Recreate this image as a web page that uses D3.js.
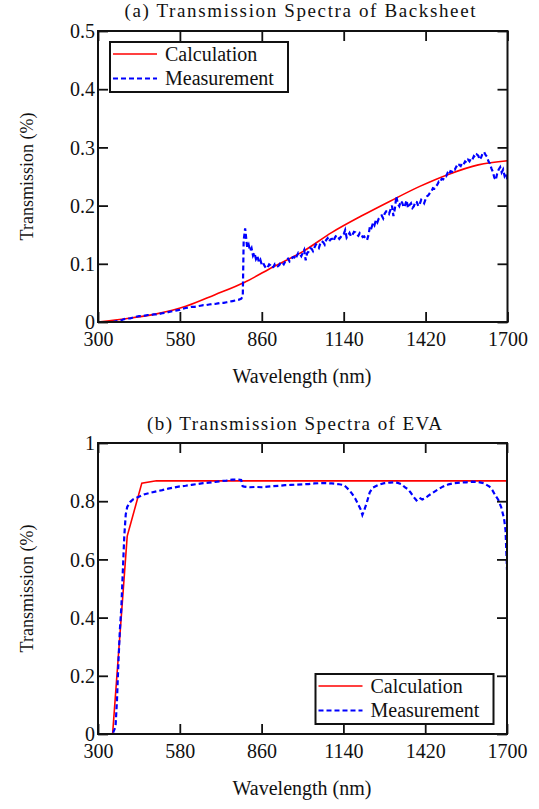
<!DOCTYPE html>
<html><head><meta charset="utf-8">
<script src="https://cdn.jsdelivr.net/npm/d3@7"></script>
<style>
html,body{margin:0;padding:0;background:#fff;}
svg text{font-family:"Liberation Serif","Times New Roman",serif;fill:#111;}
</style>
</head><body>
<svg id="chart" width="539" height="809"></svg>
<script>
// ---------- DATA ----------
const xTickValues = [300, 580, 860, 1140, 1420, 1700];
const yTicksA = [0, 0.1, 0.2, 0.3, 0.4, 0.5];
const yTickLabelsA = ["0", "0.1", "0.2", "0.3", "0.4", "0.5"];
const yTicksB = [0, 0.2, 0.4, 0.6, 0.8, 1];
const yTickLabelsB = ["0", "0.2", "0.4", "0.6", "0.8", "1"];
const seriesNames = ["Calculation", "Measurement"];

// (a) Backsheet - calculation [wavelength nm, transmission]
const calcA = [[300,0.000],[400,0.006],[500,0.014],[600,0.027],[700,0.047],[800,0.068],[900,0.095],
  [1000,0.121],[1100,0.154],[1200,0.182],[1300,0.208],[1400,0.233],[1500,0.254],[1600,0.270],[1700,0.277]];

// (a) Backsheet - measurement
const measA = [[350,0.000],[360,0.001],[370,0.002],[380,0.003],[390,0.005],[400,0.006],[410,0.006],[420,0.008],
  [430,0.009],[440,0.010],[450,0.010],[460,0.011],[470,0.012],[480,0.012],[490,0.013],[500,0.013],[510,0.014],
  [520,0.015],[530,0.016],[540,0.017],[550,0.018],[560,0.019],[570,0.020],[580,0.021],[590,0.023],[600,0.024],
  [610,0.025],[620,0.026],[630,0.026],[640,0.027],[650,0.028],[660,0.029],[670,0.029],[680,0.030],[690,0.031],
  [700,0.031],[710,0.032],[720,0.033],[730,0.033],[740,0.034],[750,0.035],[760,0.036],[770,0.037],[780,0.038],
  [790,0.040],[795,0.045],[798,0.140],[803,0.161],
  [810,0.128],[815,0.133],[820,0.122],[825,0.127],[830,0.114],[835,0.119],[840,0.108],[845,0.113],[850,0.103],
  [855,0.107],[860,0.098],[865,0.101],[870,0.096],[875,0.092],[880,0.094],[885,0.099],[890,0.097],[895,0.093],
  [900,0.095],[905,0.100],[910,0.099],[915,0.096],[920,0.098],[925,0.103],[930,0.102],[935,0.099],[940,0.104],
  [945,0.108],[950,0.109],[955,0.104],[960,0.106],[965,0.111],[970,0.112],[975,0.108],[980,0.114],[985,0.119],
  [990,0.117],[995,0.113],[1000,0.119],[1005,0.124],[1010,0.106],[1015,0.118],[1020,0.121],[1025,0.127],
  [1030,0.126],[1035,0.122],[1040,0.128],[1045,0.133],[1050,0.130],[1055,0.127],[1060,0.135],[1065,0.139],
  [1070,0.137],[1075,0.133],[1080,0.141],[1085,0.144],[1090,0.138],[1095,0.142],[1100,0.143],[1105,0.139],
  [1110,0.145],[1115,0.149],[1120,0.147],[1125,0.143],[1130,0.146],[1135,0.150],[1140,0.151],[1145,0.158],
  [1150,0.145],[1155,0.149],[1160,0.153],[1165,0.147],[1170,0.150],[1175,0.155],[1180,0.154],[1185,0.150],
  [1190,0.148],[1195,0.153],[1200,0.151],[1205,0.146],[1210,0.147],[1215,0.143],[1220,0.141],[1225,0.150],
  [1230,0.165],[1235,0.162],[1240,0.170],[1245,0.166],[1250,0.175],[1255,0.171],[1260,0.178],[1265,0.182],
  [1270,0.183],[1275,0.178],[1280,0.186],[1285,0.190],[1290,0.190],[1295,0.186],[1300,0.193],[1305,0.200],
  [1310,0.182],[1315,0.195],[1320,0.216],[1325,0.203],[1330,0.199],[1335,0.208],[1340,0.205],[1345,0.197],
  [1350,0.201],[1355,0.209],[1360,0.196],[1365,0.201],[1370,0.204],[1375,0.196],[1380,0.199],[1385,0.207],
  [1390,0.206],[1395,0.199],[1400,0.203],[1405,0.210],[1410,0.208],[1415,0.204],[1420,0.211],[1425,0.216],
  [1430,0.218],[1435,0.222],[1440,0.224],[1445,0.230],[1450,0.229],[1455,0.233],[1460,0.236],[1465,0.241],
  [1470,0.240],[1475,0.246],[1480,0.245],[1485,0.250],[1490,0.250],[1495,0.256],[1500,0.253],[1505,0.259],
  [1510,0.258],[1515,0.263],[1520,0.262],[1525,0.267],[1530,0.265],[1535,0.270],[1540,0.268],[1545,0.273],
  [1550,0.271],[1555,0.276],[1560,0.274],[1565,0.279],[1570,0.276],[1575,0.281],[1580,0.279],[1585,0.285],
  [1590,0.283],[1595,0.288],[1600,0.286],[1605,0.279],[1610,0.283],[1615,0.290],[1620,0.292],[1625,0.287],
  [1630,0.284],[1635,0.276],[1640,0.272],[1645,0.264],[1650,0.258],[1655,0.248],[1660,0.244],[1665,0.256],
  [1670,0.262],[1675,0.266],[1680,0.257],[1685,0.262],[1690,0.251],[1695,0.256],[1700,0.243]];

// (b) EVA - calculation
const calcB = [[300,0],[350,0],[400,0.680],[450,0.862],[500,0.870],[600,0.870],[800,0.870],[1000,0.870],
  [1200,0.870],[1400,0.870],[1600,0.870],[1700,0.870]];

// (b) EVA - measurement
const measB = [[300,0],[310,0],[320,0],[330,0],[340,0],[350,0],[360,0.025],[365,0.117],[370,0.250],[375,0.360],
  [380,0.437],[385,0.560],[390,0.680],[395,0.755],[400,0.780],[410,0.797],[420,0.806],[430,0.811],[440,0.815],
  [450,0.820],[460,0.824],[480,0.829],[500,0.834],[520,0.838],[540,0.843],[560,0.847],[580,0.851],[600,0.853],
  [620,0.856],[640,0.859],[660,0.862],[680,0.864],[700,0.866],[720,0.869],[740,0.871],[760,0.874],[780,0.874],
  [790,0.873],[795,0.852],[800,0.850],[820,0.848],[840,0.849],[860,0.848],[880,0.850],[900,0.852],[920,0.853],
  [940,0.855],[960,0.856],[980,0.857],[1000,0.858],[1020,0.859],[1040,0.861],[1060,0.862],[1080,0.862],
  [1100,0.861],[1120,0.859],[1140,0.856],[1150,0.848],[1160,0.838],[1170,0.825],[1180,0.810],[1190,0.790],
  [1200,0.770],[1205,0.753],[1210,0.765],[1220,0.795],[1230,0.830],[1240,0.846],[1260,0.856],[1280,0.862],
  [1300,0.864],[1320,0.865],[1340,0.858],[1350,0.848],[1360,0.842],[1370,0.830],[1380,0.815],[1390,0.803],
  [1400,0.812],[1410,0.806],[1420,0.810],[1430,0.818],[1440,0.825],[1460,0.838],[1480,0.850],[1500,0.858],
  [1520,0.862],[1540,0.864],[1560,0.865],[1580,0.867],[1600,0.866],[1620,0.862],[1630,0.856],[1640,0.850],
  [1650,0.838],[1660,0.820],[1670,0.805],[1680,0.780],[1690,0.740],[1695,0.700],[1700,0.564]];

// ---------- DRAW ----------
const svg = d3.select("#chart");
const FONT = "'Liberation Serif', 'Times New Roman', serif";
const RED = "#ff0000", BLUE = "#0000ff";

const panels = [
  {title:"(a) Transmission Spectra of Backsheet", titleX:300, titleY:17, titleLen:351,
   top:31, bottom:322, left:98, right:507.5, yMax:0.5, yTicks:yTicksA, yLabels:yTickLabelsA,
   calc:calcA, meas:measA, curve:d3.curveMonotoneX, legend:"topleft"},
  {title:"(b) Transmission Spectra of EVA", titleX:294.5, titleY:430, titleLen:295,
   top:443, bottom:734, left:98, right:507, yMax:1, yTicks:yTicksB, yLabels:yTickLabelsB,
   calc:calcB, meas:measB, curve:d3.curveLinear, legend:"bottomright"}
];

panels.forEach((p, i) => {
  const x = d3.scaleLinear().domain([300, 1700]).range([p.left, p.right]);
  const y = d3.scaleLinear().domain([0, p.yMax]).range([p.bottom, p.top]);
  const g = svg.append("g");

  // title
  g.append("text").attr("x", p.titleX).attr("y", p.titleY).attr("text-anchor", "middle")
    .attr("font-size", 19).attr("textLength", p.titleLen).attr("lengthAdjust", "spacing").text(p.title);

  // clip
  const cid = "clip" + i;
  svg.append("clipPath").attr("id", cid).append("rect")
    .attr("x", p.left).attr("y", p.top - 2).attr("width", p.right - p.left).attr("height", p.bottom - p.top + 3);

  // lines
  const line = d3.line().x(d => x(d[0])).y(d => y(d[1]));
  g.append("path").datum(p.calc).attr("clip-path", `url(#${cid})`)
    .attr("d", line.curve(p.curve)).attr("fill", "none").attr("stroke", RED).attr("stroke-width", 1.6);
  g.append("path").datum(p.meas).attr("clip-path", `url(#${cid})`)
    .attr("d", d3.line().x(d => x(d[0])).y(d => y(d[1]))).attr("fill", "none")
    .attr("stroke", BLUE).attr("stroke-width", 2.2).attr("stroke-dasharray", "5,3");

  // axes
  const fmtY = v => p.yLabels[p.yTicks.indexOf(v)];
  const bottomAx = g.append("g").attr("transform", `translate(0,${p.bottom})`)
    .call(d3.axisBottom(x).tickValues(xTickValues).tickSizeInner(-10).tickSizeOuter(0).tickPadding(10).tickFormat(d3.format("d")));
  const topAx = g.append("g").attr("transform", `translate(0,${p.top})`)
    .call(d3.axisTop(x).tickValues(xTickValues).tickSizeInner(-10).tickSizeOuter(0).tickFormat(""));
  const leftAx = g.append("g").attr("transform", `translate(${p.left},0)`)
    .call(d3.axisLeft(y).tickValues(p.yTicks).tickSizeInner(-10).tickSizeOuter(0).tickPadding(3).tickFormat(fmtY));
  const rightAx = g.append("g").attr("transform", `translate(${p.right},0)`)
    .call(d3.axisRight(y).tickValues(p.yTicks).tickSizeInner(-10).tickSizeOuter(0).tickFormat(""));
  [bottomAx, topAx, leftAx, rightAx].forEach(a => {
    a.attr("font-family", null);
    a.select(".domain").remove();
    a.selectAll("line").attr("stroke", "#111").attr("stroke-width", 1.8);
    a.selectAll("text").style("font-family", FONT).attr("font-size", 20).attr("fill", "#111");
  });
  leftAx.selectAll("text").attr("dy", "0.33em");

  // frame
  g.append("rect").attr("x", p.left).attr("y", p.top).attr("width", p.right - p.left).attr("height", p.bottom - p.top)
    .attr("fill", "none").attr("stroke", "#111").attr("stroke-width", 2);

  // axis labels
  g.append("text").attr("x", 302).attr("y", p.bottom + 61).attr("text-anchor", "middle")
    .attr("font-size", 20).text("Wavelength (nm)");
  g.append("text").attr("transform", `translate(33,${(p.top + p.bottom) / 2}) rotate(-90)`)
    .attr("text-anchor", "middle").attr("font-size", 18).text("Transmission (%)");

  // legend
  const lw = 178, lh = 50;
  const lx = p.legend === "topleft" ? p.left + 12 : p.right - 13.5 - lw;
  const ly = p.legend === "topleft" ? p.top + 11 : p.bottom - 10 - lh;
  const lg = g.append("g").attr("transform", `translate(${lx},${ly})`);
  lg.append("rect").attr("width", lw).attr("height", lh).attr("fill", "#fff")
    .attr("stroke", "#111").attr("stroke-width", 2);
  const styles = [{c:RED, w:1.6, dash:null}, {c:BLUE, w:2.2, dash:"5,3"}];
  seriesNames.forEach((name, k) => {
    const cy = 12 + k * 24.5;
    lg.append("line").attr("x1", 3).attr("x2", 47).attr("y1", cy).attr("y2", cy)
      .attr("stroke", styles[k].c).attr("stroke-width", styles[k].w)
      .attr("stroke-dasharray", styles[k].dash);
    lg.append("text").attr("x", 55).attr("y", cy + 6.5).attr("font-size", 20).text(name);
  });
});
</script>
</body></html>
